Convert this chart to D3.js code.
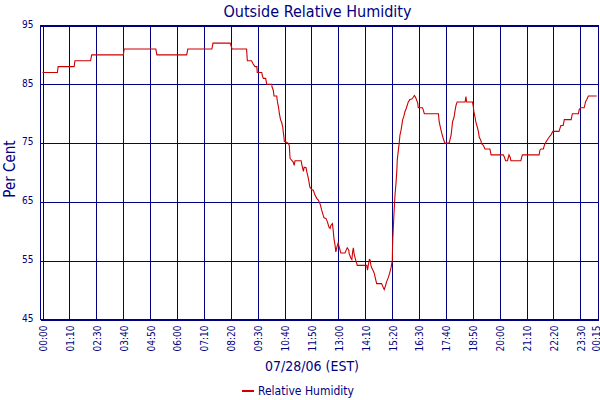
<!DOCTYPE html>
<html>
<head>
<meta charset="utf-8">
<script src="https://cdn.jsdelivr.net/npm/d3@7"></script>
<style>
  html, body { margin: 0; padding: 0; background: #ffffff; }
  svg { display: block; }
  text { font-family: "DejaVu Sans Condensed", "DejaVu Sans", sans-serif; fill: #000080; }
</style>
</head>
<body>
<svg id="chart" width="600" height="400"></svg>
<script>
// ---- data (minutes after 00:00 on 07/28/06, relative humidity %) ----
const minutes = [
  0, 39, 41, 83, 85, 126, 129, 212, 214, 297, 300, 378, 381, 444, 447, 492, 497, 535,
  537, 548, 552, 557, 562, 563, 575, 576, 579, 585, 588, 601, 602, 605, 607, 614, 616,
  619, 621, 624, 627, 630, 631, 633, 634, 644, 647, 649, 654, 657, 660, 662, 678, 680,
  684, 686, 691, 693, 697, 701, 706, 710, 714, 719, 723, 728, 732, 736, 738, 743, 747,
  751, 754, 756, 760, 762, 764, 767, 769, 771, 773, 775, 778, 782, 793, 796, 799, 803,
  804, 808, 811, 813, 815, 817, 821, 824, 825, 850, 852, 854, 857, 859, 861, 863, 867,
  870, 872, 876, 889, 893, 896, 899, 902, 907, 911, 914, 917, 918, 921, 924, 927, 929,
  930, 933, 935, 937, 940, 942, 944, 948, 950, 953, 956, 959, 963, 968, 972, 975, 978,
  981, 984, 985, 996, 998, 1001, 1038, 1040, 1044, 1047, 1051, 1055, 1066, 1068, 1071,
  1073, 1075, 1079, 1081, 1084, 1087, 1108, 1110, 1112, 1127, 1129, 1131, 1134, 1136,
  1140, 1143, 1145, 1149, 1151, 1156, 1160, 1173, 1176, 1208, 1211, 1214, 1219, 1223,
  1226, 1228, 1254, 1258, 1302, 1304, 1307, 1313, 1316, 1320, 1324, 1328, 1333, 1338,
  1354, 1357, 1359, 1365, 1368, 1386, 1389, 1405, 1407, 1411, 1420, 1424, 1427, 1431, 1453
];
const humidity = [
  87, 87, 88, 88, 89, 89, 90, 90, 91, 91, 90, 90, 91, 91, 92, 92, 91, 91,
  89, 89, 88.5, 88, 88, 87, 87, 86.5, 86, 86, 85, 85, 84.5, 84, 83, 83, 82,
  81, 80, 79, 78.5, 77.7, 77, 76, 75.3, 75, 74.6, 72.4, 72, 71.8, 71.2, 72, 72, 71.3,
  70.2, 70.9, 70.8, 70.1, 69, 67.5, 67.1, 67, 66.2, 65.6, 65.3, 64.6, 63.6, 62.7, 62.3, 62.2, 61.6,
  60.7, 60.5, 61, 61.3, 60.2, 58.8, 57.6, 56.5, 57.1, 57.6, 58, 57.3, 56.3, 56.3, 56.8, 57.2, 56.8,
  56.2, 55.5, 55.2, 56.5, 57.2, 56.1, 55.1, 54.5, 54.2, 54.2, 53.4, 54.2, 55.2, 55.1, 54.2, 53.8, 53.3,
  52.8, 52.2, 51.1, 51.1, 50.5, 50.1, 50.7, 51.4, 52.2, 53.1, 53.9, 55, 58.2, 62.4, 66.1, 68.4, 70.4,
  72.1, 73.8, 74.9, 76.3, 77.2, 78, 78.9, 79.7, 80.3, 80.8, 81.4, 82, 82.4, 82.5, 82.8, 83.1, 82.8,
  82.3, 81.7, 81, 81, 80.7, 80, 80, 78.6, 77.4, 76.6, 75.7, 75, 75, 75.5, 76.3,
  77.4, 78.6, 79.4, 80.3, 81.4, 82, 82, 82.9, 82, 82, 81.4, 80.3, 79.4, 78.6,
  77.7, 76.9, 76, 75.5, 74.9, 74.6, 74, 74, 73, 73, 72.6, 72, 72, 73,
  72.6, 72, 72, 73, 73, 73.8, 74, 74, 74.7, 75.2, 75.6, 76, 76.4, 77,
  77, 77.6, 78, 78, 79, 79, 80, 80, 80.7, 81, 81, 82.1, 82.4, 83, 83
];
const xTickLabels = ["00:00","01:10","02:30","03:40","04:50","06:00","07:10","08:20","09:30",
  "10:40","11:50","13:00","14:10","15:20","16:30","17:40","18:50","20:00","21:10","22:20",
  "23:30","00:15"];
const yTickValues = [45, 55, 65, 75, 85, 95];
const yDomain = [45, 95];
const xDomainMinutes = [0, 1455];
const seriesName = "Relative Humidity";
const titleText = "Outside Relative Humidity";
const xTitle = "07/28/06 (EST)";
const yTitle = "Per Cent";

// ---- layout ----
const navy = "#000080";
const red = "#cc0000";
const frame = { left: 40.5, right: 598.5, top: 25.5, bottom: 319.5 };

const svg = d3.select("#chart");

const x = d3.scaleLinear().domain(xDomainMinutes).range([42.5, 597.5]);
const y = d3.scaleLinear().domain(yDomain).range([frame.bottom, frame.top]);

// tick positions: evenly spaced labels, last one at the end of the domain
const nEven = xTickLabels.length - 2;
const lastEven = 1410;
const xTickValues = d3.range(nEven + 1).map(i => i * lastEven / nEven).concat([xDomainMinutes[1]]);
const labelFor = new Map(xTickValues.map((v, i) => [v, xTickLabels[i]]));

// frame
svg.append("rect")
  .attr("x", frame.left).attr("y", frame.top)
  .attr("width", frame.right - frame.left).attr("height", frame.bottom - frame.top)
  .attr("fill", "none").attr("stroke", navy).attr("stroke-width", 1)
  .attr("shape-rendering", "crispEdges");

// y axis with grid
const yAxis = d3.axisLeft(y)
  .tickValues(yTickValues)
  .tickSize(-(frame.right - frame.left))
  .tickPadding(7)
  .tickFormat(d3.format("d"));
const gy = svg.append("g").attr("transform", `translate(${frame.left},0)`).call(yAxis);
gy.select(".domain").remove();
gy.selectAll(".tick line").attr("stroke", navy).attr("shape-rendering", "crispEdges");
gy.selectAll(".tick text")
  .attr("fill", navy).attr("y", -1.5)
  .style("font-family", '"DejaVu Sans Condensed", "DejaVu Sans", sans-serif')
  .style("font-size", "10px");

// x axis with grid
const xAxis = d3.axisBottom(x)
  .tickValues(xTickValues)
  .tickSize(-(frame.bottom - frame.top))
  .tickFormat(d => labelFor.get(d));
const gx = svg.append("g").attr("transform", `translate(0,${frame.bottom})`).call(xAxis);
gx.select(".domain").remove();
gx.selectAll(".tick line").attr("stroke", navy).attr("shape-rendering", "crispEdges");
gx.selectAll(".tick text")
  .attr("fill", navy)
  .attr("transform", "rotate(-90)")
  .attr("text-anchor", "end")
  .attr("x", -6)
  .attr("y", (d, i) => i === xTickValues.length - 1 ? 1.5 : 4)
  .attr("dy", 0)
  .style("font-family", '"DejaVu Sans Condensed", "DejaVu Sans", sans-serif')
  .style("font-size", "10px");

// series line
const points = minutes.map((m, i) => ({ m, v: humidity[i] }));
const line = d3.line().x(d => x(d.m)).y(d => y(d.v));
svg.append("path")
  .datum(points)
  .attr("d", line)
  .attr("fill", "none")
  .attr("stroke", red)
  .attr("stroke-width", 1.1);

// titles
svg.append("text")
  .attr("x", 317.5).attr("y", 17.3)
  .attr("text-anchor", "middle")
  .style("font-size", "16px")
  .text(titleText);

svg.append("text")
  .attr("x", 312).attr("y", 371)
  .attr("text-anchor", "middle")
  .style("font-size", "14px")
  .text(xTitle);

svg.append("text")
  .attr("transform", "translate(15,169) rotate(-90)")
  .attr("text-anchor", "middle")
  .style("font-size", "15px")
  .text(yTitle);

// legend
svg.append("line")
  .attr("x1", 242).attr("x2", 254).attr("y1", 391).attr("y2", 391)
  .attr("stroke", red).attr("stroke-width", 2);
svg.append("text")
  .attr("x", 258).attr("y", 395)
  .style("font-size", "12px")
  .text(seriesName);
</script>
</body>
</html>
